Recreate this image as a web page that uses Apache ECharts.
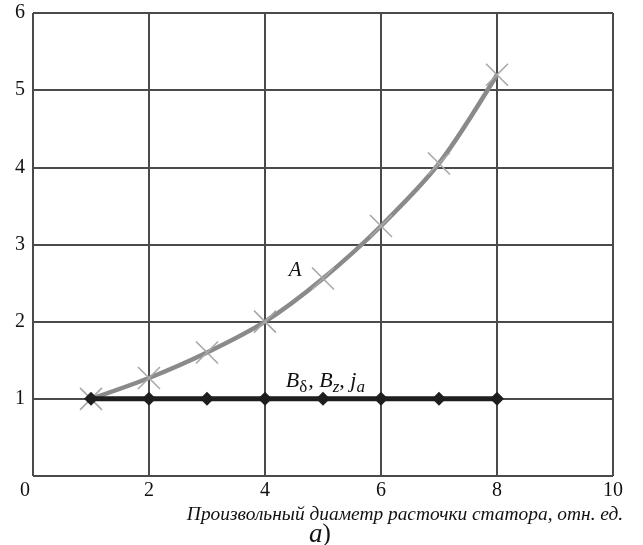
<!DOCTYPE html>
<html>
<head>
<meta charset="utf-8">
<script src="https://cdn.jsdelivr.net/npm/echarts@6/dist/echarts.min.js"></script>
<style>
  html, body { margin: 0; padding: 0; background: #fff; }
  #chart { width: 643px; height: 545px; }
</style>
</head>
<body>
<div id="chart"></div>
<script>
// Relative stator bore diameter (x) and relative quantities (y)
const diameters = [1, 2, 3, 4, 5, 6, 7, 8];
const seriesA = [1.0, 1.27, 1.6, 2.0, 2.56, 3.24, 4.05, 5.2];
const seriesB = [1, 1, 1, 1, 1, 1, 1, 1];
const xTicks = [0, 2, 4, 6, 8, 10];
const yTicks = [0, 1, 2, 3, 4, 5, 6];
const xTitle = 'Произвольный диаметр расточки статора, отн. ед.';

const serif = '"Liberation Serif", "DejaVu Serif", serif';
const gridColor = '#4a4a4a';

const chart = echarts.init(document.getElementById('chart'), null, { renderer: 'canvas' });

chart.setOption({
  animation: false,
  backgroundColor: '#fff',
  textStyle: { fontFamily: serif },
  grid: { left: 33, right: 30, top: 13, bottom: 69, containLabel: false, outerBoundsMode: 'none' },
  title: {
    text: '{i|а}{n|)}',
    left: 304,
    top: 516,
    textStyle: {
      rich: {
        i: { fontFamily: serif, fontStyle: 'italic', fontWeight: 'normal', fontSize: 27, color: '#111' },
        n: { fontFamily: serif, fontWeight: 'normal', fontSize: 25, color: '#111' }
      }
    }
  },
  xAxis: {
    type: 'value',
    min: xTicks[0],
    max: xTicks[xTicks.length - 1],
    interval: 2,
    name: xTitle,
    nameLocation: 'middle',
    nameGap: 11,
    nameTextStyle: {
      fontFamily: serif, fontStyle: 'italic', fontSize: 19.4, color: '#111',
      verticalAlign: 'top', padding: [0, 0, 0, 164]
    },
    axisLine: { show: false },
    axisTick: { show: false },
    axisLabel: {
      fontFamily: serif, fontSize: 20, color: '#111', margin: 5,
      formatter: v => (v === 0 ? '{z|0}' : String(v)),
      rich: { z: { fontFamily: serif, fontSize: 20, color: '#111', padding: [0, 16, 0, 0] } }
    },
    splitLine: { show: true, lineStyle: { color: gridColor, width: 2 } }
  },
  yAxis: {
    type: 'value',
    min: yTicks[0],
    max: yTicks[yTicks.length - 1],
    interval: 1,
    axisLine: { show: false },
    axisTick: { show: false },
    axisLabel: {
      fontFamily: serif, fontSize: 20, color: '#111', margin: 8,
      formatter: v => (v === 0 ? '' : String(v))
    },
    splitLine: { show: true, lineStyle: { color: gridColor, width: 2 } }
  },
  series: [
    {
      name: 'A',
      type: 'line',
      smooth: 0.3,
      data: diameters.map((d, i) => [d, seriesA[i]]),
      lineStyle: { color: '#8a8a8a', width: 4.5 },
      symbol: 'path://M0,0L10,10M10,0L0,10',
      symbolSize: 22,
      itemStyle: { color: 'none', borderColor: '#a8a8a8', borderWidth: 1.6 },
      z: 4,
      markPoint: {
        symbol: 'circle',
        symbolSize: 1,
        itemStyle: { color: 'rgba(0,0,0,0)' },
        data: [{ coord: [4.4, 2.66], value: 'A' }],
        label: {
          show: true, position: 'right', distance: 0,
          formatter: 'A',
          fontFamily: serif, fontStyle: 'italic', fontSize: 21, color: '#111'
        }
      }
    },
    {
      name: 'B',
      type: 'line',
      data: diameters.map((d, i) => [d, seriesB[i]]),
      lineStyle: { color: '#1e1e1e', width: 5 },
      symbol: 'diamond',
      symbolSize: 14,
      itemStyle: { color: '#1e1e1e' },
      z: 5,
      markPoint: {
        symbol: 'circle',
        symbolSize: 1,
        itemStyle: { color: 'rgba(0,0,0,0)' },
        data: [{ coord: [4.35, 1.24], value: 'B' }],
        label: {
          show: true, position: 'right', distance: 0,
          formatter: '{b|B}{s|δ}{b|, B}{si|z}{b|, j}{si|a}',
          rich: {
            b: { fontFamily: serif, fontStyle: 'italic', fontSize: 22, color: '#111', lineHeight: 24, verticalAlign: 'bottom' },
            s: { fontFamily: serif, fontSize: 17, color: '#111', lineHeight: 24, verticalAlign: 'bottom', padding: [0, 1, -4, 0] },
            si: { fontFamily: serif, fontStyle: 'italic', fontSize: 17, color: '#111', lineHeight: 24, verticalAlign: 'bottom', padding: [0, 0, -4, 0] }
          }
        }
      }
    }
  ]
});
</script>
</body>
</html>
